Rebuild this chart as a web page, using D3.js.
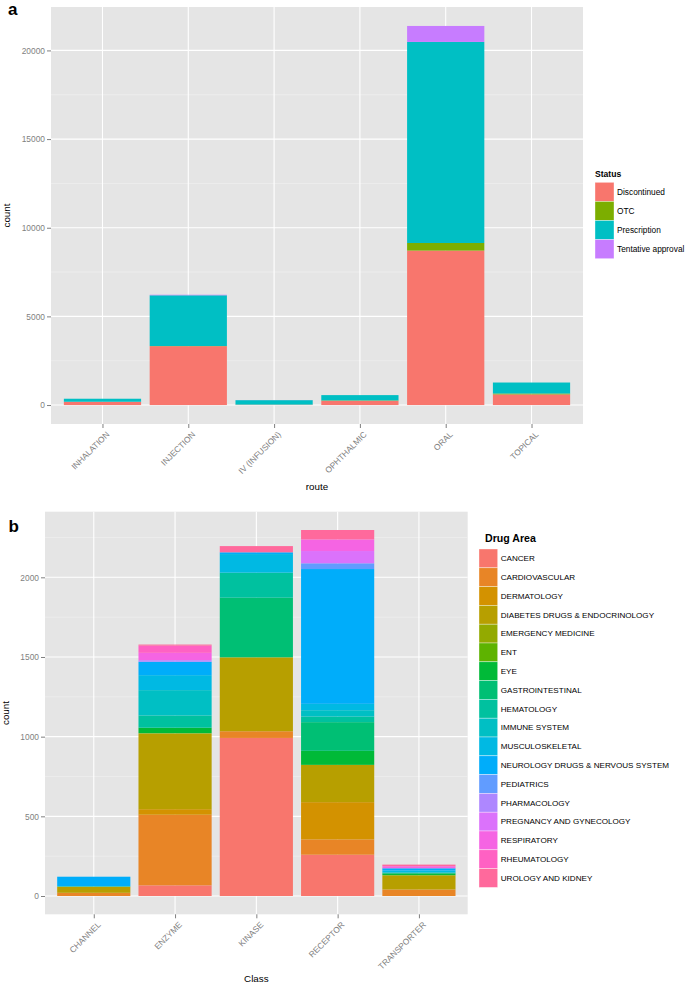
<!DOCTYPE html>
<html>
<head>
<meta charset="utf-8">
<script src="https://cdn.jsdelivr.net/npm/d3@7"></script>
<style>
  html, body { margin: 0; padding: 0; background: #ffffff; }
  svg { display: block; font-family: "Liberation Sans", Arial, Helvetica, sans-serif; }
</style>
</head>
<body>
<svg id="chart" width="685" height="983"></svg>
<script>
// ---------------- DATA : panel a ----------------
const routes = ["INHALATION", "INJECTION", "IV (INFUSION)", "OPHTHALMIC", "ORAL", "TOPICAL"];
const statuses = ["Discontinued", "OTC", "Prescription", "Tentative approval"];
const discontinued = [186, 3320, 20, 240, 8710, 600];
const otc          = [0, 10, 5, 20, 430, 50];
const prescription = [170, 2860, 250, 300, 11340, 620];
const tentative    = [0, 30, 5, 0, 900, 0];
const routeTicks = [0, 5000, 10000, 15000, 20000];

// ---------------- DATA : panel b ----------------
const classes = ["CHANNEL", "ENZYME", "KINASE", "RECEPTOR", "TRANSPORTER"];
const drugAreas = ["CANCER", "CARDIOVASCULAR", "DERMATOLOGY", "DIABETES DRUGS & ENDOCRINOLOGY",
  "EMERGENCY MEDICINE", "ENT", "EYE", "GASTROINTESTINAL", "HEMATOLOGY", "IMMUNE SYSTEM",
  "MUSCULOSKELETAL", "NEUROLOGY DRUGS & NERVOUS SYSTEM", "PEDIATRICS", "PHARMACOLOGY",
  "PREGNANCY AND GYNECOLOGY", "RESPIRATORY", "RHEUMATOLOGY", "UROLOGY AND KIDNEY"];
const cancer         = [0, 67, 992, 259, 0];
const cardiovascular = [20, 443, 42, 96, 41];
const dermatology    = [0, 35, 0, 234, 0];
const diabetes       = [38, 474, 464, 234, 88];
const emergency      = [0, 3, 0, 0, 0];
const ent            = [0, 0, 0, 0, 3];
const eye            = [0, 34, 0, 88, 8];
const gastro         = [3, 0, 374, 180, 7];
const hematology     = [0, 77, 157, 35, 0];
const immune         = [0, 159, 0, 40, 0];
const musculo        = [0, 94, 117, 40, 12];
const neurology      = [60, 84, 11, 846, 15];
const pediatrics     = [0, 0, 0, 36, 0];
const pharmacology   = [0, 10, 0, 0, 0];
const pregnancy      = [0, 0, 0, 77, 0];
const respiratory    = [0, 46, 0, 73, 13];
const rheumatology   = [0, 45, 0, 0, 0];
const urology        = [0, 7, 39, 59, 10];
const classTicks = [0, 500, 1000, 1500, 2000];

// ---------------- colours (ggplot2 hue palette, polar LUV) ----------------
function hclLuv(h, c, l) {
  const hr = h * Math.PI / 180;
  const U = c * Math.cos(hr), V = c * Math.sin(hr);
  const Xn = 95.047, Yn = 100, Zn = 108.883;
  const den = Xn + 15 * Yn + 3 * Zn;
  const un = 4 * Xn / den, vn = 9 * Yn / den;
  const Y = l > 8 ? Yn * Math.pow((l + 16) / 116, 3) : Yn * l / 903.3;
  const u = U / (13 * l) + un, v = V / (13 * l) + vn;
  const X = 9 * Y * u / (4 * v);
  const Z = Y * (12 - 3 * u - 20 * v) / (4 * v);
  const x = X / 100, y = Y / 100, z = Z / 100;
  let r = 3.240479 * x - 1.537150 * y - 0.498535 * z;
  let g = -0.969256 * x + 1.875992 * y + 0.041556 * z;
  let b = 0.055648 * x - 0.204043 * y + 1.057311 * z;
  const gam = t => { t = t <= 0.0031308 ? 12.92 * t : 1.055 * Math.pow(t, 1 / 2.4) - 0.055; return Math.max(0, Math.min(1, t)); };
  return d3.rgb(gam(r) * 255, gam(g) * 255, gam(b) * 255).formatHex();
}
const huePal = n => d3.range(n).map(i => hclLuv(15 + 360 * i / n, 100, 65));

const svg = d3.select("#chart");
const BG = "#E5E5E5", GRID_MINOR = "#F2F2F2", AXIS_GREY = "#7F7F7F";

function drawPanel(o) {
  const rows = o.categories.map((c, i) => {
    const r = { cat: c };
    o.keys.forEach((k, j) => r[k] = o.series[j][i]);
    return r;
  });
  const stacked = d3.stack().keys(o.keys)(rows);
  const maxTotal = d3.max(rows, r => d3.sum(o.keys, k => r[k]));
  const pad = maxTotal * 0.05;
  const y = d3.scaleLinear().domain([-pad, maxTotal + pad]).range([o.bottom, o.top]);
  const x = d3.scalePoint().domain(o.categories).range([o.left, o.right]).padding(0.6);
  const bw = x.step() * 0.9;
  const color = d3.scaleOrdinal().domain(o.keys).range(huePal(o.keys.length));

  const g = svg.append("g");
  g.append("rect").attr("x", o.left).attr("y", o.top)
    .attr("width", o.right - o.left).attr("height", o.bottom - o.top).attr("fill", BG);

  // minor grid
  const step = o.ticks[1] - o.ticks[0];
  const minor = [];
  for (let v = o.ticks[0] - step / 2; v <= maxTotal + pad; v += step) {
    if (v >= -pad) minor.push(v);
  }
  g.selectAll(".mg").data(minor).join("line")
    .attr("x1", o.left).attr("x2", o.right)
    .attr("y1", d => y(d)).attr("y2", d => y(d))
    .attr("stroke", GRID_MINOR).attr("stroke-width", 0.6);
  // major grid
  g.selectAll(".gy").data(o.ticks).join("line")
    .attr("x1", o.left).attr("x2", o.right)
    .attr("y1", d => y(d)).attr("y2", d => y(d))
    .attr("stroke", "#fff").attr("stroke-width", 1.1);
  g.selectAll(".gx").data(o.categories).join("line")
    .attr("x1", d => x(d)).attr("x2", d => x(d))
    .attr("y1", o.top).attr("y2", o.bottom)
    .attr("stroke", "#fff").attr("stroke-width", 1.1);

  // bars
  stacked.forEach(layer => {
    g.append("g").selectAll("rect").data(layer).join("rect")
      .attr("x", d => x(d.data.cat) - bw / 2)
      .attr("width", bw)
      .attr("y", d => y(d[1]))
      .attr("height", d => Math.max(0, y(d[0]) - y(d[1])))
      .attr("fill", color(layer.key));
  });

  // y axis
  const yAxis = d3.axisLeft(y).tickValues(o.ticks).tickSize(4).tickPadding(2).tickFormat(d3.format("d"));
  const ya = g.append("g").attr("transform", `translate(${o.left},0)`).call(yAxis);
  ya.select(".domain").remove();
  ya.selectAll(".tick line").attr("stroke", AXIS_GREY);
  ya.selectAll(".tick text").attr("fill", AXIS_GREY).style("font-size", "8.4px");

  // x axis
  const xAxis = d3.axisBottom(x).tickSize(4).tickFormat("");
  const xa = g.append("g").attr("transform", `translate(0,${o.bottom})`).call(xAxis);
  xa.select(".domain").remove();
  xa.selectAll(".tick line").attr("stroke", AXIS_GREY);
  g.selectAll(".xl").data(o.categories).join("text")
    .attr("transform", d => `translate(${x(d) + 7.5},${o.bottom + 11}) rotate(-45)`)
    .attr("text-anchor", "end")
    .attr("fill", AXIS_GREY).style("font-size", "8.4px")
    .text(d => d);

  // axis titles
  g.append("text").attr("x", (o.left + o.right) / 2).attr("y", o.xTitleY)
    .attr("text-anchor", "middle").style("font-size", "9.8px").attr("fill", "#000").text(o.xTitle);
  g.append("text").attr("transform", `translate(${o.yTitleX},${(o.top + o.bottom) / 2}) rotate(-90)`)
    .attr("text-anchor", "middle").style("font-size", "9.8px").attr("fill", "#000").text("count");

  // panel letter
  g.append("text").attr("x", o.letterX).attr("y", o.letterY)
    .style("font-size", "17px").style("font-weight", "bold").text(o.letter);

  // legend
  const lg = g.append("g").attr("transform", `translate(${o.legX},${o.legY})`);
  lg.append("text").attr("x", o.legTitleDx).attr("y", -o.legTitleGap)
    .style("font-size", o.legTitleSize + "px").style("font-weight", "bold").text(o.legTitle);
  const items = lg.selectAll(".li").data(o.keys).join("g")
    .attr("transform", (d, i) => `translate(0,${i * o.keyH})`);
  items.append("rect").attr("width", o.keyW).attr("height", o.keyH)
    .attr("fill", d => color(d)).attr("stroke", "#ffffff").attr("stroke-opacity", 0.6).attr("stroke-width", 0.6);
  items.append("text").attr("x", o.keyW + 3).attr("y", o.keyH / 2)
    .attr("dy", "0.35em").style("font-size", o.legLabelSize + "px").attr("fill", "#000")
    .text(d => d);
}

drawPanel({
  categories: routes, keys: statuses,
  series: [discontinued, otc, prescription, tentative],
  ticks: routeTicks,
  left: 51, right: 583, top: 7, bottom: 424,
  xTitle: "route", xTitleY: 490, yTitleX: 10,
  letter: "a", letterX: 8, letterY: 15,
  legX: 595, legY: 182.3, keyW: 19, keyH: 19.1, legTitle: "Status", legTitleDx: 0,
  legTitleSize: 8.6, legTitleGap: 5, legLabelSize: 8.3
});

drawPanel({
  categories: classes, keys: drugAreas,
  series: [cancer, cardiovascular, dermatology, diabetes, emergency, ent, eye, gastro, hematology,
           immune, musculo, neurology, pediatrics, pharmacology, pregnancy, respiratory, rheumatology, urology],
  ticks: classTicks,
  left: 45, right: 467.7, top: 511.7, bottom: 914.3,
  xTitle: "Class", xTitleY: 981.5, yTitleX: 9,
  letter: "b", letterX: 8.5, letterY: 532,
  legX: 479, legY: 549, keyW: 18.7, keyH: 18.8, legTitle: "Drug Area", legTitleDx: 6,
  legTitleSize: 10.6, legTitleGap: 7, legLabelSize: 8.1
});
</script>
</body>
</html>
